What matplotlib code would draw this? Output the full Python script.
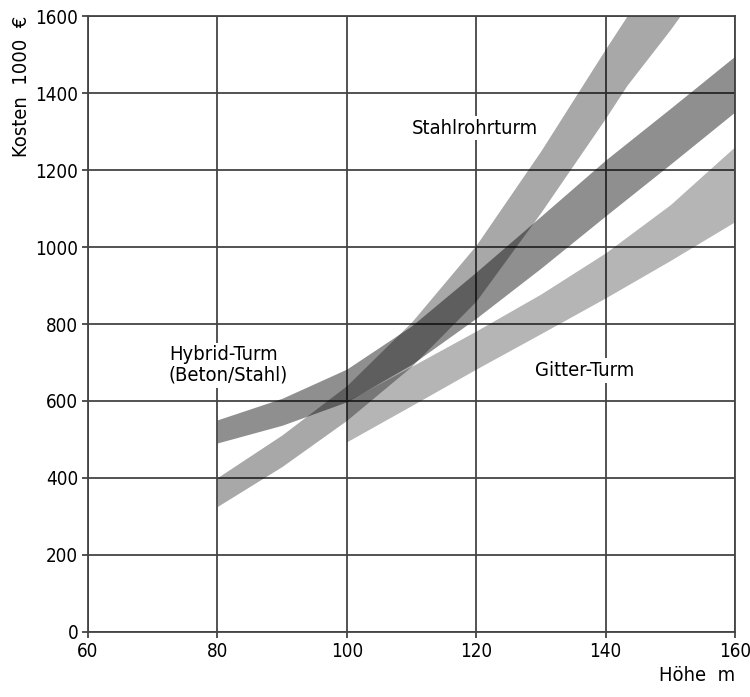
import matplotlib.pyplot as plt

# Hoehe in m, Kosten in 1000 EUR (untere / obere Grenze des Bandes)
hybrid_x = [80, 90, 100, 110, 120, 130, 140, 150, 160]
hybrid_lo = [491, 537, 598, 695, 815, 945, 1081, 1215, 1351]
hybrid_hi = [551, 607, 683, 795, 935, 1080, 1226, 1360, 1496]

stahl_x = [80, 90, 100, 110, 120, 130, 140, 143.3, 150, 151.5]
stahl_lo = [326, 430, 550, 690, 860, 1090, 1335, 1420, 1565, 1600]
stahl_hi = [401, 512, 640, 805, 1005, 1250, 1515, 1600, 1600, 1600]

gitter_x = [100, 110, 120, 130, 140, 150, 160]
gitter_lo = [494, 588, 683, 775, 868, 965, 1066]
gitter_hi = [600, 690, 782, 878, 985, 1110, 1261]

plt.rcParams['font.family'] = ['DejaVu Sans']
plt.rcParams['font.stretch'] = 'condensed'

fig = plt.figure(figsize=(7.5, 6.97), dpi=100)
ax = fig.add_axes([0.1173, 0.0933, 0.8627, 0.8837])

ax.fill_between(gitter_x, gitter_lo, gitter_hi, color='black', alpha=0.29, lw=0, zorder=2)
ax.fill_between(hybrid_x, hybrid_lo, hybrid_hi, color='black', alpha=0.44, lw=0, zorder=2)
ax.fill_between(stahl_x, stahl_lo, stahl_hi, color='black', alpha=0.34, lw=0, zorder=2)

ax.set_xlim(60, 160)
ax.set_ylim(0, 1600)
ax.set_xticks(range(60, 161, 20))
ax.set_yticks(range(0, 1601, 200))
ax.grid(color='#444444', lw=1.3, zorder=1)
ax.set_axisbelow(True)
for s in ax.spines.values():
    s.set_color('#444444')
    s.set_linewidth(1.3)
ax.tick_params(labelsize=13.5, length=4, width=1.3, color='#444444', pad=3)

box = dict(facecolor='white', edgecolor='none', pad=2)
ax.text(119.8, 1309, 'Stahlrohrturm', fontsize=14.5, ha='center', va='center', bbox=box, zorder=4)
ax.text(72.5, 693, 'Hybrid-Turm\n(Beton/Stahl)', fontsize=14.5, ha='left', va='center',
        linespacing=1.1, bbox=box, zorder=4)
ax.text(129.1, 680, 'Gitter-Turm', fontsize=14.5, ha='left', va='center', bbox=box, zorder=4)

fig.text(0.029, 0.978, 'Kosten  1000  €', rotation=90, fontsize=14.5, ha='center', va='top')
fig.text(0.98, 0.017, 'Höhe  m', fontsize=14.5, ha='right', va='bottom')

fig.savefig('out.png')
